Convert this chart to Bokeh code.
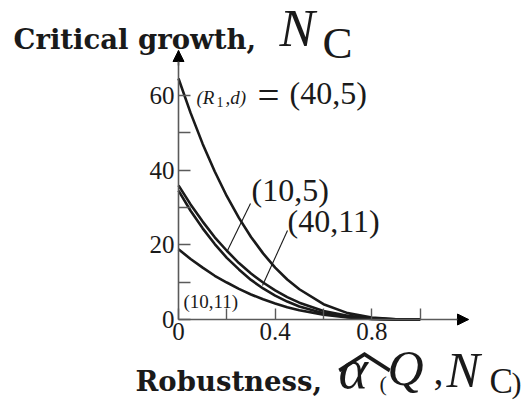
from bokeh.plotting import figure
from bokeh.models import (FixedTicker, Label, Arrow, NormalHead, Range1d, LinearAxis)
from bokeh.embed import file_html
from bokeh.resources import INLINE

# Robustness values (horizontal axis)
alpha = [0.0, 0.05, 0.1, 0.15, 0.2, 0.25, 0.3, 0.35, 0.4, 0.45, 0.5,
         0.6, 0.7, 0.8, 0.9, 1.0]

# Critical growth N_C for each (R1, d) pair
nc_40_5 = [64.5, 55.3, 47.0, 39.6, 33.0, 27.2, 22.1, 17.7, 13.9, 10.7, 8.1,
           4.1, 1.7, 0.5, 0.06, 0.0]
nc_10_5 = [35.9, 30.8, 26.2, 22.0, 18.4, 15.1, 12.3, 9.9, 7.8, 6.0, 4.5,
           2.3, 0.97, 0.29, 0.04, 0.0]
nc_40_11 = [34.5, 29.1, 24.4, 20.2, 16.5, 13.4, 10.6, 8.3, 6.4, 4.8, 3.5,
            1.7, 0.65, 0.17, 0.02, 0.0]
nc_10_11 = [18.8, 16.2, 13.9, 11.7, 9.9, 8.2, 6.7, 5.4, 4.3, 3.3, 2.5,
            1.3, 0.57, 0.18, 0.02, 0.0]

x_ticks = [0, 0.2, 0.4, 0.6, 0.8, 1.0]
x_labels = {0.2: "", 0.6: "", 1.0: ""}
y_ticks = [0, 10, 20, 30, 40, 50, 60]
y_labels = {10: "", 30: "", 50: ""}

W, H = 528, 403
# canvas pixel where the data origin sits, and axis lengths in data units
OX, OY = 178, 319
X_MAX, Y_MAX = 1.2, 72.0
SX = 290 / X_MAX     # px per unit of alpha
SY = 269 / Y_MAX     # px per unit of N_C

SERIF = "Liberation Serif"
BOLD_SERIF = "DejaVu Serif"
INK = "#1a1a1a"
AXIS = "#5a5a5a"

p = figure(width=W, height=H, output_backend="svg", toolbar_location=None,
           x_axis_location=None, y_axis_location=None,
           x_range=Range1d(-OX / SX, (W - OX) / SX),
           y_range=Range1d(-(H - OY) / SY, OY / SY),
           min_border=0)
p.title.visible = False
p.outline_line_color = None
p.grid.visible = False
p.background_fill_color = "white"
p.border_fill_color = "white"

xaxis = LinearAxis(fixed_location=0, bounds=(0, X_MAX),
                   ticker=FixedTicker(ticks=x_ticks),
                   major_label_overrides=x_labels,
                   major_tick_in=11, major_label_standoff=3)
yaxis = LinearAxis(fixed_location=0, bounds=(0, Y_MAX),
                   ticker=FixedTicker(ticks=y_ticks),
                   major_label_overrides=y_labels,
                   major_tick_in=12, major_label_standoff=4)
for ax in (xaxis, yaxis):
    ax.axis_line_color = AXIS
    ax.axis_line_width = 1.6
    ax.major_tick_line_color = AXIS
    ax.major_tick_line_width = 1.4
    ax.major_tick_out = 0
    ax.minor_tick_line_color = None
    ax.major_label_text_font = SERIF
    ax.major_label_text_color = INK
    ax.major_label_text_font_size = "25px"
p.add_layout(xaxis, "below")
p.add_layout(yaxis, "left")

# arrow heads at the ends of both axes
p.add_layout(Arrow(end=NormalHead(size=11, fill_color="black", line_color="black"),
                   x_start=X_MAX - 0.05, y_start=0, x_end=X_MAX, y_end=0,
                   line_color=AXIS, line_width=1.6))
p.add_layout(Arrow(end=NormalHead(size=11, fill_color="black", line_color="black"),
                   x_start=0, y_start=Y_MAX - 4, x_end=0, y_end=Y_MAX,
                   line_color=AXIS, line_width=1.6))

for series in (nc_40_5, nc_10_5, nc_40_11, nc_10_11):
    p.line(alpha, series, line_color=INK, line_width=2.6)


def dx(px):
    return (px - OX) / SX


def dy(py):
    return (OY - py) / SY


def put(text, px, base, size, style="normal", font=SERIF):
    # base is the wanted baseline in canvas pixels; the label is anchored
    # a third of an em above it
    p.add_layout(Label(x=dx(px), y=dy(base - 0.34 * size), text=text,
                       text_font=font, text_font_size=f"{size}px",
                       text_font_style=style, text_color=INK,
                       text_baseline="alphabetic", text_align="left"))


# vertical axis title
put("Critical growth,", 13, 48, 27.5, "bold", BOLD_SERIF)
put("N", 279, 46, 53, "italic")
put("C", 322, 58, 45)

# horizontal axis title
put("Robustness,", 135, 390, 27.5, "bold", BOLD_SERIF)
put("\ufe3f", 336, 362, 56, font="Noto Sans CJK SC")
put("\u03b1", 338, 388, 56, "italic")
put("(", 379, 390, 22)
put("Q", 387, 384, 50, "italic")
put(",", 433, 384, 40)
put("N", 446, 386, 50, "italic")
put("C", 489, 393, 35)
put(")", 511, 392, 30)

# curve labels
put("(R", 196, 103, 19, "italic")
put("1", 216, 106, 14)
put(",d)", 225, 103, 19, "italic")
put("=", 257, 108, 39)
put("(40,5)", 289, 103, 32)
put("(10,5)", 251, 200, 32)
put("(40,11)", 287, 231, 32)
put("(10,11)", 183, 307, 19)

# leader lines from labels to curves
p.segment(x0=[dx(250), dx(287)], y0=[dy(203), dy(230)],
          x1=[dx(227), dx(262)], y1=[dy(250), dy(285)],
          line_color=INK, line_width=1.1)

open("out.html", "w").write(file_html(p, INLINE))
